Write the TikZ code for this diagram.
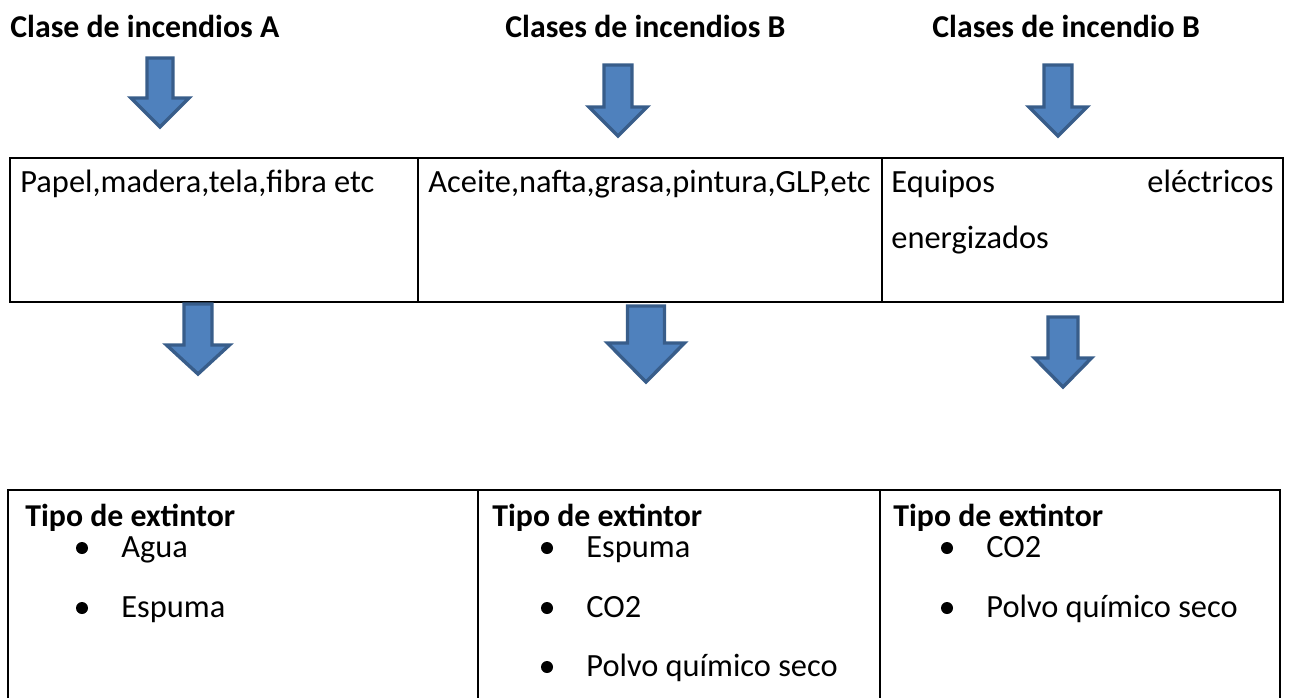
\documentclass[tikz,border=0pt]{standalone}
\usepackage{fontspec}
\setmainfont{Carlito}
\usetikzlibrary{positioning}

\definecolor{arrowfill}{HTML}{4F81BD}
\definecolor{arrowline}{HTML}{385D8A}

\begin{document}
\begin{tikzpicture}[
    x=0.5pt, y=-0.5pt,
    every node/.style={font=\fontsize{16.2}{19}\selectfont, inner sep=0pt, anchor=base west},
    heading/.style={font=\fontsize{15.9}{19}\selectfont\bfseries},
    blockarrow/.style={fill=arrowfill, draw=arrowline, line width=1.7pt, line join=miter},
    tableline/.style={line width=1pt}
]
    \useasboundingbox (0,0) rectangle (1291,698);

    % titles
    \node[heading] (titA) at (10,37) {Clase de incendios A};
    \node[heading] (titB) at (505,37) {Clases de incendios B};
    \node[heading] (titC) at (932,37) {Clases de incendio B};

    % upper table
    \draw[tableline] (10,158) rectangle (1283,302);
    \draw[tableline] (418,158) -- (418,302);
    \draw[tableline] (882,158) -- (882,302);
    \node (matA) at (20,192) {Papel,madera,tela,fibra etc};
    \node (matB) at (428,192) {Aceite,nafta,grasa,pintura,GLP,etc};
    \node (matC) at (891,192) {Equipos};
    \node[anchor=base east] (matCb) at (1274,192) {eléctricos};
    \node (matCc) at (891,248) {energizados};

    % block arrows
    \foreach \cx/\ytop/\yhead/\ytip/\sw/\hw in {
        160/58/98/127/26/58,
        618/65/107/136/28/58,
        1058/65/107/136/28/58,
        198/304/345/374/28/63,
        646/306/343/382/37/77,
        1063/317/358/387/30/57
    }{
        \draw[blockarrow] ({\cx-\sw/2},\ytop) -- ({\cx+\sw/2},\ytop)
            -- ({\cx+\sw/2},\yhead) -- ({\cx+\hw/2},\yhead) -- (\cx,\ytip)
            -- ({\cx-\hw/2},\yhead) -- ({\cx-\sw/2},\yhead) -- cycle;
    }

    % lower table, cut at the bottom
    \draw[tableline] (8,698) -- (8,490) -- (1280,490) -- (1280,698);
    \draw[tableline] (478,490) -- (478,698);
    \draw[tableline] (880,490) -- (880,698);

    \foreach \hx/\name in {25/tipA, 492/tipB, 893/tipC}{
        \node[heading] (\name) at (\hx,526) {Tipo de extintor};
    }
    \foreach \bx/\ty/\txt in {
        82/557/Agua, 82/617/Espuma,
        547/557/Espuma, 547/617/CO2, 547/676/Polvo químico seco,
        947/557/CO2, 947/617/Polvo químico seco
    }{
        \fill (\bx,{\ty-9}) circle (6);
        \node at ({\bx+39},\ty) {\txt};
    }
\end{tikzpicture}
\end{document}
